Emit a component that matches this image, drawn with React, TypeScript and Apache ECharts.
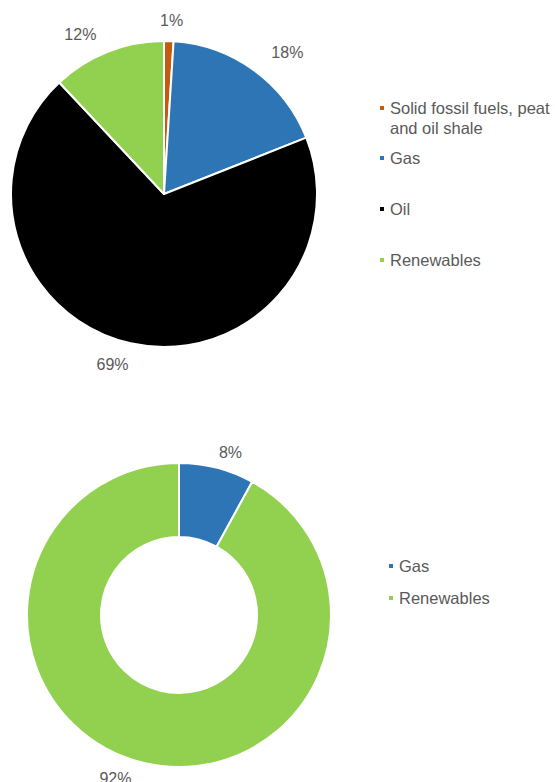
import React, { useEffect, useRef } from "react";
import * as echarts from "echarts";

const topCategories = ["Solid fossil fuels, peat and oil shale", "Gas", "Oil", "Renewables"];
const topValues = [1, 18, 69, 12];
const topColors = ["#C55A11", "#2E75B6", "#000000", "#92D050"];

const bottomCategories = ["Gas", "Renewables"];
const bottomValues = [8, 92];
const bottomColors = ["#2E75B6", "#92D050"];

// label nudges (dx, dy) in px relative to the ring-centred position
const topLabelNudge = [[2, 7], [17, 5], [-12, -6], [-17, 9]];
const bottomLabelNudge = [[8, 7], [-20, -6]];

const TEXT = "#595959";
const FONT = "'Liberation Sans', Arial, sans-serif";

function nudgeLabel(n: number[]) {
  const [dx, dy] = n;
  const sp = Math.max(1, 2 * Math.abs(dy));
  return {
    padding: [0, dx < 0 ? -2 * dx : 0, 0, dx > 0 ? 2 * dx : 0],
    formatter: (p: any) => (dy >= 0 ? `{s| }\n{v|${p.percent}%}` : `{v|${p.percent}%}\n{s| }`),
    rich: {
      s: { fontSize: 1, lineHeight: sp, height: sp },
      v: { fontSize: 16, lineHeight: 18, color: TEXT, fontFamily: FONT },
    },
  };
}

export default function App() {
  const ref = useRef<HTMLDivElement>(null);
  useEffect(() => {
    if (!ref.current) return;
    const chart = echarts.init(ref.current, null, { renderer: "svg" });
    const topData = topCategories.map((n, i) => ({ name: n, value: topValues[i], itemStyle: { color: topColors[i] } }));
    const bottomData = bottomCategories.map((n, i) => ({ name: n, value: bottomValues[i], itemStyle: { color: bottomColors[i] } }));
    const labelRing = (data: any[], nudges: number[][], center: any, radius: any) => ({
      type: "pie",
      center,
      radius,
      startAngle: 90,
      clockwise: true,
      silent: true,
      data: data.map((d, i) => ({
        name: d.name,
        value: d.value,
        itemStyle: { color: "rgba(0,0,0,0)" },
        label: nudgeLabel(nudges[i]),
      })),
      itemStyle: { borderWidth: 0 },
      label: { show: true, position: "inside", color: TEXT, fontSize: 16, fontFamily: FONT },
      labelLine: { show: false },
      emphasis: { disabled: true },
    });
    const legendText = { color: TEXT, fontSize: 16.5, fontFamily: FONT, lineHeight: 20 };
    chart.setOption({
      animation: false,
      legend: [
        {
          data: [topCategories[0]],
          left: 378,
          top: 78,
          orient: "vertical",
          itemWidth: 6,
          itemHeight: 6,
          icon: "rect",
          padding: 0,
          selectedMode: false,
          formatter: () => " \nSolid fossil fuels, peat\nand oil shale",
          textStyle: legendText,
        },
        {
          data: topCategories.slice(1),
          left: 378,
          top: 148,
          orient: "vertical",
          itemWidth: 6,
          itemHeight: 6,
          itemGap: 31,
          icon: "rect",
          padding: 0,
          selectedMode: false,
          textStyle: legendText,
        },
        {
          data: bottomCategories,
          left: 387,
          top: 556,
          orient: "vertical",
          itemWidth: 6,
          itemHeight: 6,
          itemGap: 12,
          icon: "rect",
          padding: 0,
          selectedMode: false,
          textStyle: legendText,
        },
      ],
      series: [
        {
          type: "pie",
          center: [164, 194],
          radius: [0, 153],
          startAngle: 90,
          clockwise: true,
          data: topData,
          itemStyle: { borderColor: "#fff", borderWidth: 2 },
          label: { show: false },
          labelLine: { show: false },
          emphasis: { disabled: true },
        },
        {
          type: "pie",
          center: [179, 615],
          radius: [78, 152],
          startAngle: 90,
          clockwise: true,
          data: bottomData,
          itemStyle: { borderColor: "#fff", borderWidth: 2 },
          label: { show: false },
          labelLine: { show: false },
          emphasis: { disabled: true },
        },
        labelRing(topData, topLabelNudge, [164, 194], [153, 203]),
        labelRing(bottomData, bottomLabelNudge, [179, 615], [152, 192]),
      ],
    });
    return () => chart.dispose();
  }, []);
  return <div ref={ref} style={{ position: "absolute", left: 0, top: 0, width: 555, height: 782 }} />;
}
